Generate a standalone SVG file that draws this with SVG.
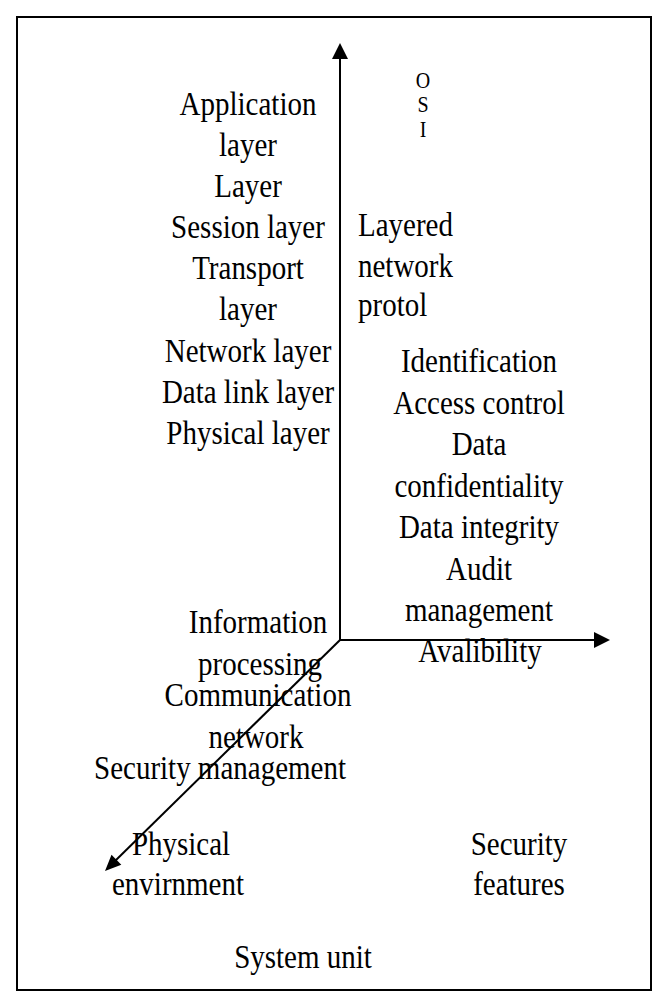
<svg xmlns="http://www.w3.org/2000/svg" width="669" height="1002" viewBox="0 0 669 1002" font-family="'Liberation Serif','Times New Roman',Times,serif">
<style>
text{font-family:"Liberation Serif","Times New Roman",Times,serif;font-size:29px;fill:#000;text-anchor:middle}
.osi{font-size:20px}
.l{text-anchor:start}
.ax{stroke:#000;stroke-width:2;fill:none}
.hd{fill:#000;stroke:none}
</style>
<rect x="17" y="17" width="634" height="973" fill="#fff" stroke="#000" stroke-width="2"/>
<g id="connectors">
<line class="ax" x1="340" y1="640" x2="340" y2="55"/>
<polygon class="hd" points="340,43 332,59 348,59"/>
<line class="ax" x1="340" y1="640" x2="598" y2="640"/>
<polygon class="hd" points="610,640 594,632 594,648"/>
<line class="ax" x1="340" y1="640" x2="114" y2="862"/>
<polygon class="hd" points="105,871 121.3,864.8 111.5,854.8"/>
</g>
<g id="osi">
<text class="osi" transform="matrix(1,0,0,1.14,423,88)">O</text>
<text class="osi" transform="matrix(1,0,0,1.14,423,112)">S</text>
<text class="osi" transform="matrix(1,0,0,1.14,423,137)">I</text>
</g>
<g id="layers">
<text transform="matrix(1,0,0,1.14,248,115)">Application</text>
<text transform="matrix(1,0,0,1.14,248,156)">layer</text>
<text transform="matrix(1,0,0,1.14,248,197)">Layer</text>
<text transform="matrix(1,0,0,1.14,248,238)">Session layer</text>
<text transform="matrix(1,0,0,1.14,248,279)">Transport</text>
<text transform="matrix(1,0,0,1.14,248,320)">layer</text>
<text transform="matrix(1,0,0,1.14,248,362)">Network layer</text>
<text transform="matrix(1,0,0,1.14,248,403)">Data link layer</text>
<text transform="matrix(1,0,0,1.14,248,444)">Physical layer</text>
</g>
<g id="protocol">
<text class="l" transform="matrix(1,0,0,1.14,358,236)">Layered</text>
<text class="l" transform="matrix(1,0,0,1.14,358,277)">network</text>
<text class="l" transform="matrix(1,0,0,1.14,358,316)">protol</text>
</g>
<g id="features">
<text transform="matrix(1,0,0,1.14,479,372)">Identification</text>
<text transform="matrix(1,0,0,1.14,479,414)">Access control</text>
<text transform="matrix(1,0,0,1.14,479,455)">Data</text>
<text transform="matrix(1,0,0,1.14,479,497)">confidentiality</text>
<text transform="matrix(1,0,0,1.14,479,538)">Data integrity</text>
<text transform="matrix(1,0,0,1.14,479,580)">Audit</text>
<text transform="matrix(1,0,0,1.14,479,621)">management</text>
<text transform="matrix(1,0,0,1.14,480,662)">Avalibility</text>
</g>
<g id="system">
<text transform="matrix(1,0,0,1.14,258,633)">Information</text>
<text transform="matrix(1,0,0,1.14,260,675)">processing</text>
<text transform="matrix(1,0,0,1.14,258,706)">Communication</text>
<text transform="matrix(1,0,0,1.14,256,748)">network</text>
<text transform="matrix(1,0,0,1.14,220,779)">Security management</text>
<text transform="matrix(1,0,0,1.14,181,855)">Physical</text>
<text transform="matrix(1,0,0,1.14,178,895)">envirnment</text>
</g>
<g id="secfeat">
<text transform="matrix(1,0,0,1.14,519,855)">Security</text>
<text transform="matrix(1,0,0,1.14,519,895)">features</text>
</g>
<g id="unit"><text transform="matrix(1,0,0,1.14,303,968)">System unit</text></g>
</svg>
